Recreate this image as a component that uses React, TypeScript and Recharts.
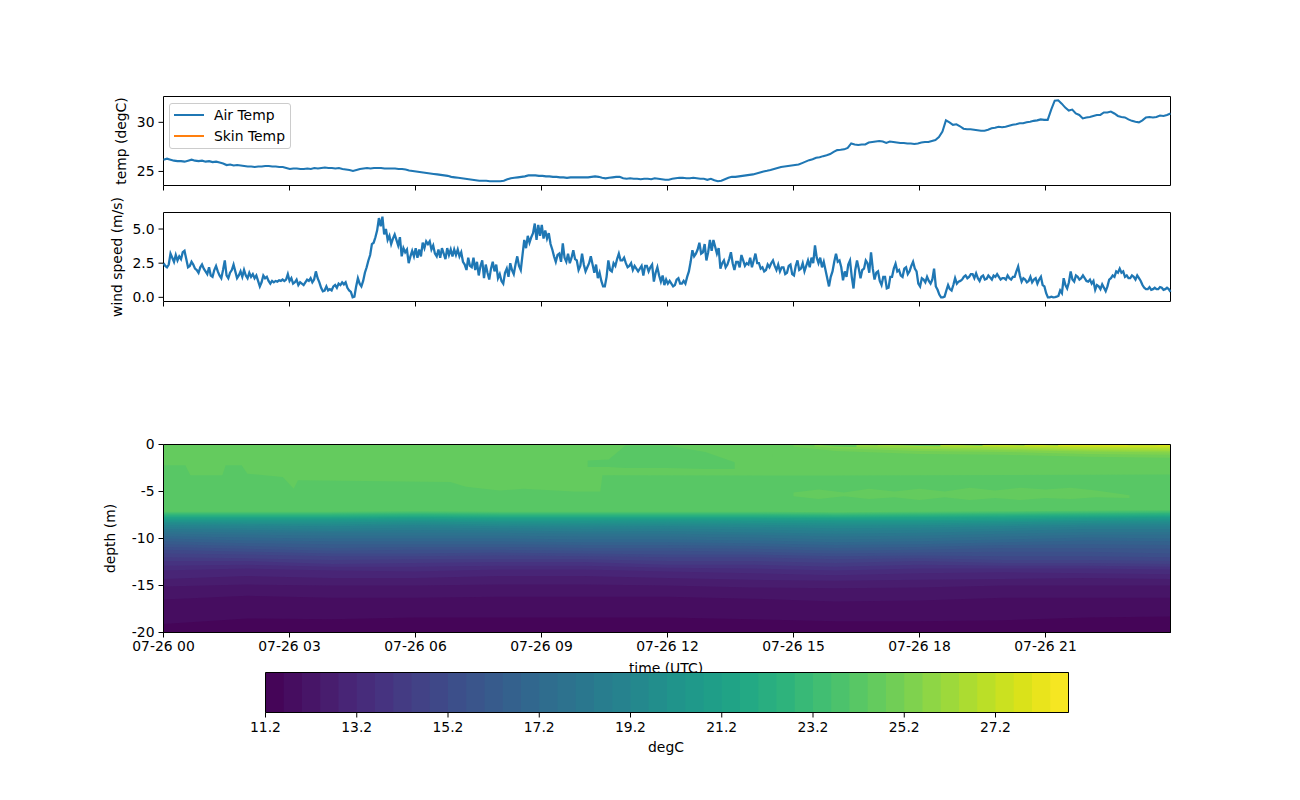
import React from 'react';
import {
    Area, AreaChart, ComposedChart, Legend, Line, LineChart, ReferenceArea, XAxis, YAxis,
} from 'recharts';

const FONT = '"DejaVu Sans", sans-serif';
const FONT_SIZE = 13.9;
const LAST_HOUR = 23.976;

const hourTicks = [0, 3, 6, 9, 12, 15, 18, 21];
const hourLabels = ['07-26 00', '07-26 03', '07-26 06', '07-26 09', '07-26 12', '07-26 15', '07-26 18', '07-26 21'];
const tempTicks = [25, 30];
const windTicks = [0, 2.5, 5];
const depthTicks = [0, -5, -10, -15, -20];
const colorbarTicks = [11.2, 13.2, 15.2, 17.2, 19.2, 21.2, 23.2, 25.2, 27.2];

// air temp, one reading every 5 min
const airTemp = [
    26.2, 26.3, 26.2, 26.1, 26.05, 26.05, 26.0, 26.1, 26.2, 26.1, 26.05, 26.1,
    26.0, 26.05, 25.95, 26.0, 25.9, 25.8, 25.65, 25.7, 25.6, 25.65, 25.6, 25.55,
    25.5, 25.5, 25.45, 25.5, 25.5, 25.55, 25.55, 25.5, 25.5, 25.45, 25.45, 25.35,
    25.25, 25.3, 25.3, 25.25, 25.25, 25.3, 25.25, 25.35, 25.3, 25.35, 25.4, 25.35,
    25.35, 25.3, 25.35, 25.25, 25.2, 25.15, 25.05, 25.15, 25.25, 25.3, 25.35, 25.3,
    25.35, 25.35, 25.35, 25.3, 25.3, 25.3, 25.3, 25.25, 25.25, 25.2, 25.1, 25.05,
    25.0, 24.95, 24.9, 24.85, 24.8, 24.75, 24.7, 24.65, 24.6, 24.55, 24.45, 24.4,
    24.35, 24.3, 24.25, 24.2, 24.15, 24.1, 24.05, 24.05, 24.05, 24.0, 24.0, 24.0,
    24.0, 24.05, 24.2, 24.3, 24.35, 24.4, 24.45, 24.5, 24.6, 24.6, 24.6, 24.55,
    24.55, 24.5, 24.5, 24.45, 24.45, 24.4, 24.4, 24.35, 24.4, 24.4, 24.4, 24.4,
    24.4, 24.4, 24.45, 24.5, 24.45, 24.35, 24.3, 24.35, 24.4, 24.45, 24.45, 24.3,
    24.25, 24.3, 24.25, 24.25, 24.2, 24.25, 24.25, 24.2, 24.3, 24.25, 24.2, 24.15,
    24.15, 24.25, 24.3, 24.35, 24.35, 24.3, 24.3, 24.35, 24.3, 24.25, 24.25, 24.15,
    24.25, 24.1, 24.0, 24.05, 24.2, 24.35, 24.45, 24.45, 24.5, 24.55, 24.6, 24.65,
    24.7, 24.8, 24.9, 25.0, 25.07, 25.15, 25.25, 25.35, 25.45, 25.5, 25.55, 25.6,
    25.65, 25.7, 25.85, 26.0, 26.15, 26.25, 26.4, 26.45, 26.56, 26.65, 26.77, 27.0,
    27.17, 27.2, 27.25, 27.4, 27.85, 27.75, 27.7, 27.75, 27.75, 27.95, 28.0, 28.05,
    28.1, 28.05, 27.9, 28.05, 28.0, 27.95, 27.9, 27.9, 27.85, 27.85, 27.8, 27.85,
    27.95, 28.0, 28.0, 28.1, 28.2, 28.5, 29.05, 30.2, 30.0, 29.75, 29.8, 29.6,
    29.35, 29.3, 29.3, 29.25, 29.2, 29.15, 29.15, 29.25, 29.4, 29.45, 29.55, 29.5,
    29.55, 29.65, 29.75, 29.8, 29.9, 29.9, 30.0, 30.05, 30.15, 30.2, 30.3, 30.25,
    30.25, 31.3, 32.2, 32.25, 31.9, 31.5, 31.2, 31.3, 30.9, 30.75, 30.4, 30.5,
    30.55, 30.65, 30.75, 30.75, 31.0, 31.0, 31.1, 30.9, 30.65, 30.55, 30.5, 30.3,
    30.15, 30.05, 30.0, 30.2, 30.5, 30.55, 30.5, 30.55, 30.7, 30.65, 30.75, 30.9,
];

// wind speed, one reading every 2.5 min
const windSpeed = [
    2.5, 2.3, 2.2, 2.4, 3.2, 2.9, 2.6, 3.1, 2.7, 3.0, 2.8, 3.3, 3.4, 2.8, 2.2, 2.3, 2.6, 2.4, 2.1, 2.0, 1.8, 2.2, 2.4, 2.1,
    1.9, 1.7, 2.2, 1.6, 1.5, 2.0, 2.3, 1.9, 1.6, 1.4, 2.0, 2.7, 1.6, 1.4, 1.8, 2.0, 2.4, 1.9, 1.4, 1.6, 1.9, 1.5, 2.0, 1.6,
    1.4, 1.8, 1.5, 1.7, 1.4, 1.6, 1.2, 0.8, 1.1, 1.6, 1.4, 1.5, 1.2, 1.0, 1.2, 1.1, 1.2, 1.15, 1.25, 1.2, 1.3, 1.2, 1.3, 1.7,
    1.2, 1.4, 1.0, 1.1, 1.3, 0.9, 1.1, 1.0, 0.9, 1.1, 1.3, 1.2, 1.4, 1.1, 1.3, 1.9, 1.4, 1.1, 0.7, 0.45, 0.5, 0.8, 0.5, 0.6,
    0.5, 0.8, 0.9, 0.7, 1.0, 0.9, 1.1, 0.95, 1.1, 0.7, 0.5, 0.4, 0.0, 0.05, 0.8, 1.4, 1.0, 0.8, 1.2, 1.8, 2.2, 2.7, 3.1, 3.9,
    4.0, 4.4, 4.9, 5.8, 5.2, 5.9, 4.6, 5.0, 4.2, 4.5, 3.9, 4.3, 4.6, 4.2, 3.8, 4.4, 3.0, 3.6, 3.3, 3.5, 2.5, 3.0, 3.4, 3.0,
    3.6, 2.9, 3.5, 3.0, 4.0, 3.6, 4.1, 3.9, 4.1, 3.5, 3.8, 3.2, 3.0, 3.5, 2.9, 3.6, 3.2, 2.8, 3.6, 3.1, 3.5, 3.0, 3.5, 3.1,
    3.5, 3.0, 3.3, 2.6, 2.4, 2.0, 2.9, 2.3, 2.2, 2.9, 2.0, 2.6, 1.6, 2.3, 2.7, 1.4, 2.4, 1.8, 1.3, 2.1, 2.6, 1.9, 2.4, 1.4,
    1.7, 1.2, 1.0, 1.8, 2.1, 1.5, 2.5, 2.0, 1.7, 2.4, 3.0, 2.3, 2.0, 3.1, 4.2, 3.6, 4.5, 4.0, 4.4, 4.7, 5.4, 4.2, 5.3, 4.5,
    5.3, 4.3, 4.9, 4.3, 4.7, 3.9, 3.5, 3.0, 2.6, 3.1, 3.2, 2.6, 3.95, 2.9, 2.6, 3.2, 2.5, 2.9, 3.45, 2.8, 2.7, 2.0, 2.3, 3.2,
    2.4, 1.9, 2.2, 2.5, 3.0, 2.4, 1.8, 2.4, 1.4, 1.8, 1.2, 0.8, 0.8, 1.5, 2.7, 2.0, 1.9, 2.5, 2.3, 2.8, 3.2, 2.7, 2.7, 2.9,
    2.5, 2.2, 2.3, 2.5, 2.0, 2.3, 2.1, 1.9, 2.1, 2.3, 1.6, 2.3, 2.3, 1.9, 2.2, 2.4, 1.15, 1.8, 2.2, 1.6, 1.15, 1.6, 0.9, 1.3,
    1.0, 1.2, 1.0, 0.8, 0.9, 1.3, 1.4, 1.0, 1.0, 1.2, 1.0, 1.5, 1.9, 2.6, 3.45, 3.0, 3.2, 3.5, 4.0, 3.2, 3.3, 3.9, 2.7, 3.3,
    4.2, 3.4, 4.2, 3.7, 3.2, 3.6, 2.1, 2.5, 2.7, 2.2, 2.4, 2.8, 3.3, 2.5, 2.0, 2.6, 2.6, 2.2, 3.1, 2.7, 2.3, 2.5, 2.4, 2.9,
    2.2, 2.7, 3.2, 2.5, 2.5, 2.1, 2.2, 1.9, 2.0, 2.4, 2.2, 2.5, 2.7, 2.3, 2.0, 2.4, 1.9, 2.2, 2.2, 1.7, 1.8, 2.3, 2.4, 1.7,
    1.6, 2.3, 2.7, 2.0, 2.1, 2.5, 1.9, 2.3, 2.7, 2.2, 2.9, 2.5, 3.8, 2.9, 2.5, 2.9, 2.2, 2.6, 2.0, 1.4, 0.8, 1.5, 1.9, 2.6,
    3.2, 2.6, 2.7, 2.2, 1.25, 1.9, 1.5, 2.4, 2.7, 1.5, 0.65, 2.0, 2.7, 2.1, 1.4, 2.0, 2.1, 2.7, 2.5, 1.8, 3.3, 2.1, 1.3, 1.8,
    1.9, 1.2, 0.9, 1.5, 1.5, 0.65, 0.7, 1.5, 1.5, 2.1, 2.45, 1.9, 2.0, 1.6, 1.5, 2.1, 2.2, 1.7, 1.9, 2.3, 2.6, 2.1, 1.9, 1.0,
    0.8, 1.4, 1.3, 1.1, 1.5, 1.2, 1.0, 1.3, 2.1, 0.8, 0.55, 0.2, 0.0, 0.0, 0.05, 0.5, 0.9, 0.6, 0.5, 0.9, 1.4, 1.0, 1.15, 1.2,
    1.3, 1.5, 1.6, 1.4, 1.5, 1.7, 1.7, 1.4, 1.75, 1.4, 1.2, 1.5, 1.6, 1.3, 1.35, 1.6, 1.45, 1.3, 1.6, 1.5, 1.7, 1.5, 1.3, 1.4,
    1.4, 1.3, 1.6, 1.4, 1.3, 1.5, 1.5, 1.9, 2.25, 1.6, 1.15, 1.4, 1.3, 1.1, 1.2, 1.5, 1.1, 1.3, 1.4, 1.0, 1.3, 1.5, 0.9, 0.8,
    0.3, 0.0, 0.0, 0.05, 0.0, 0.02, 0.05, 0.1, 0.5, 0.3, 1.4, 0.9, 0.65, 1.1, 1.9, 1.3, 1.15, 1.6, 1.5, 1.3, 1.4, 1.6, 1.4, 1.2,
    1.15, 1.3, 1.0, 1.2, 0.55, 0.9, 0.8, 0.6, 0.95, 0.7, 0.45, 0.8, 1.3, 1.4, 1.6, 1.5, 1.9, 1.8, 2.1, 1.8, 1.9, 1.5, 1.6, 1.4,
    1.4, 1.6, 1.5, 1.3, 1.6, 1.4, 1.2, 0.9, 0.7, 0.6, 0.6, 0.75, 0.55, 0.6, 0.7, 0.6, 0.6, 0.75, 0.7, 0.55, 0.6, 0.7, 0.6, 0.4,
];

// depth (m) of each isotherm, read every two hours
const isoHours = [0, 2, 4, 6, 8, 10, 12, 14, 16, 18, 20, 22, LAST_HOUR];
const iso11_6 = [19.1, 18.5, 18.6, 18.4, 18.4, 18.4, 18.4, 18.6, 18.8, 18.8, 18.7, 18.4, 18.3];
const iso12_0 = [16.5, 16.1, 16.3, 16.3, 16.2, 16.2, 16.2, 16.4, 16.7, 16.6, 16.3, 16.3, 16.3];
const iso12_4 = [15.1, 14.9, 15.0, 15.0, 14.9, 14.9, 15.0, 15.2, 15.3, 15.2, 15.0, 15.0, 15.0];
const iso12_8 = [14.3, 14.0, 14.2, 14.2, 14.0, 14.0, 14.2, 14.4, 14.5, 14.4, 14.3, 14.2, 14.3];
const iso13_2 = [13.4, 13.2, 13.4, 13.5, 13.3, 13.3, 13.5, 13.7, 13.9, 13.7, 13.6, 13.7, 13.8];
const iso13_6 = [12.9, 12.8, 13.0, 13.0, 12.9, 12.9, 13.1, 13.2, 13.4, 13.2, 13.2, 13.2, 13.3];
const iso14_0 = [12.4, 12.4, 12.7, 12.6, 12.5, 12.5, 12.8, 12.8, 13.0, 12.8, 12.9, 12.9, 13.0];
const iso14_4 = [12.0, 12.1, 12.3, 12.2, 12.2, 12.2, 12.4, 12.4, 12.6, 12.4, 12.6, 12.6, 12.7];
const iso14_8 = [11.6, 11.7, 11.9, 11.9, 11.8, 11.9, 12.0, 12.0, 12.2, 12.1, 12.3, 12.3, 12.4];
const iso15_2 = [11.2, 11.4, 11.6, 11.6, 11.5, 11.6, 11.7, 11.7, 11.9, 11.8, 11.9, 11.9, 12.0];
const iso15_6 = [10.9, 11.1, 11.3, 11.2, 11.2, 11.3, 11.3, 11.4, 11.6, 11.5, 11.4, 11.4, 11.6];
const iso16_0 = [10.6, 10.8, 11.0, 10.9, 10.9, 11.0, 11.0, 11.1, 11.3, 11.2, 11.0, 11.0, 11.1];
const iso16_4 = [10.3, 10.5, 10.6, 10.6, 10.6, 10.7, 10.7, 10.8, 11.0, 10.9, 10.7, 10.6, 10.7];
const iso16_8 = [10.0, 10.2, 10.3, 10.3, 10.3, 10.4, 10.4, 10.5, 10.7, 10.6, 10.4, 10.2, 10.3];
const iso17_2 = [9.75, 9.9, 10.0, 10.0, 10.0, 10.1, 10.1, 10.2, 10.4, 10.3, 10.1, 9.9, 10.0];
const iso17_6 = [9.5, 9.6, 9.7, 9.7, 9.7, 9.8, 9.8, 9.9, 10.1, 10.0, 9.8, 9.6, 9.6];
const iso18_0 = [9.25, 9.35, 9.4, 9.4, 9.4, 9.5, 9.5, 9.6, 9.8, 9.7, 9.5, 9.3, 9.3];
const iso18_4 = [9.0, 9.1, 9.2, 9.1, 9.15, 9.25, 9.2, 9.35, 9.5, 9.4, 9.2, 9.0, 9.0];
const iso18_8 = [8.8, 8.9, 8.95, 8.85, 8.9, 9.0, 8.95, 9.05, 9.2, 9.1, 8.95, 8.75, 8.75];
const iso19_2 = [8.6, 8.65, 8.7, 8.6, 8.7, 8.75, 8.7, 8.8, 8.9, 8.85, 8.7, 8.55, 8.5];
const iso19_6 = [8.4, 8.45, 8.5, 8.4, 8.5, 8.55, 8.5, 8.55, 8.65, 8.6, 8.5, 8.35, 8.3];
const iso20_0 = [8.25, 8.3, 8.3, 8.2, 8.3, 8.35, 8.3, 8.35, 8.4, 8.4, 8.3, 8.15, 8.1];
const iso20_4 = [8.1, 8.1, 8.1, 8.05, 8.15, 8.15, 8.1, 8.15, 8.2, 8.2, 8.15, 8.0, 7.95];
const iso20_8 = [8.0, 8.0, 7.95, 7.9, 8.0, 8.0, 7.95, 8.0, 8.05, 8.05, 8.0, 7.85, 7.8];
const iso21_2 = [7.9, 7.85, 7.85, 7.8, 7.85, 7.85, 7.85, 7.85, 7.9, 7.9, 7.85, 7.75, 7.7];
const iso21_6 = [7.75, 7.75, 7.75, 7.7, 7.75, 7.75, 7.75, 7.75, 7.8, 7.75, 7.7, 7.65, 7.6];
const iso22_0 = [7.65, 7.65, 7.65, 7.6, 7.65, 7.65, 7.65, 7.65, 7.7, 7.65, 7.6, 7.55, 7.5];
const iso22_4 = [7.55, 7.55, 7.55, 7.5, 7.55, 7.55, 7.55, 7.55, 7.6, 7.55, 7.5, 7.45, 7.4];
const iso22_8 = [7.45, 7.45, 7.45, 7.4, 7.45, 7.45, 7.45, 7.45, 7.5, 7.45, 7.4, 7.35, 7.3];
const iso23_2 = [7.35, 7.35, 7.35, 7.3, 7.35, 7.35, 7.35, 7.35, 7.4, 7.35, 7.3, 7.25, 7.2];
const iso23_6 = [7.25, 7.25, 7.25, 7.2, 7.25, 7.25, 7.25, 7.25, 7.3, 7.25, 7.2, 7.15, 7.1];
const iso24_0 = [7.15, 7.15, 7.15, 7.1, 7.15, 7.15, 7.15, 7.15, 7.2, 7.15, 7.1, 7.05, 7.0];

// the mixed layer steps around more, so it gets its own readings
const iso24_4Hours = [0, 0.52, 0.64, 1.4, 1.48, 1.86, 2, 2.84, 3.1, 3.2, 6.83, 7.2, 8, 8.57, 9.76, 10.4, 10.45, 16, LAST_HOUR];
const iso24_4 = [2.2, 2.2, 3.26, 3.26, 2.2, 2.2, 3.1, 3.45, 4.7, 3.8, 4.0, 4.5, 4.9, 4.7, 5.0, 5.0, 3.26, 3.3, 3.2];
const iso24_8Hours = [14.5, 16, 18, 20, 22, LAST_HOUR];
const iso24_8 = [0, 0.7, 1.0, 1.1, 1.3, 1.4];
const iso25_2Hours = [15, 16, 18, 20, 22, LAST_HOUR];
const iso25_2 = [0, 0.4, 0.7, 0.8, 1.0, 1.1];
const iso25_6Hours = [15.5, 16, 18, 20, 22, LAST_HOUR];
const iso25_6 = [0, 0.2, 0.45, 0.6, 0.75, 0.85];
const iso26_0Hours = [16.5, 18, 20, 22, LAST_HOUR];
const iso26_0 = [0, 0.3, 0.45, 0.6, 0.7];
const iso26_4Hours = [17, 18, 20, 22, LAST_HOUR];
const iso26_4 = [0, 0.15, 0.3, 0.5, 0.55];
const iso26_8Hours = [18.5, 20, 22, LAST_HOUR];
const iso26_8 = [0, 0.2, 0.35, 0.4];
const iso27_2Hours = [19.5, 21, 22, LAST_HOUR];
const iso27_2 = [0, 0.15, 0.25, 0.3];
const iso27_6Hours = [20.5, 21.5, 22, 23, LAST_HOUR];
const iso27_6 = [0, 0.12, 0.1, 0.12, 0.12];
const iso28_0Hours = [21.3, 21.6, 22, 22.8, 23, 23.6, LAST_HOUR];
const iso28_0 = [0, 0.06, 0, 0, 0.07, 0.07, 0];

const surfaceHours = [0, LAST_HOUR];
const surface = [0, 0];

// cooler lens near the surface around midday, warmer sheet at 5 m late on
const lensHours = [10.1, 10.6, 11, 12, 12.9, 13.6];
const lensTop = [1.7, 1.6, 0.1, 0.1, 0.8, 1.9];
const lensBottom = [2.4, 2.4, 2.5, 2.5, 2.6, 2.6];
const sheetHours = [15, 15.6, 16.2, 16.8, 17.4, 18, 18.6, 19.2, 19.8, 20.4, 21, 21.6, 22.2, 23];
const sheetTop = [5.1, 4.8, 5.1, 4.7, 5.0, 4.7, 5.0, 4.6, 4.9, 4.6, 4.8, 4.6, 4.9, 5.4];
const sheetBottom = [5.5, 5.8, 5.5, 5.8, 5.6, 5.9, 5.6, 5.9, 5.7, 5.9, 5.7, 5.8, 5.6, 5.7];

const colorbarEdges = [
    11.2, 11.6, 12.0, 12.4, 12.8, 13.2, 13.6, 14.0, 14.4, 14.8, 15.2, 15.6, 16.0, 16.4, 16.8,
    17.2, 17.6, 18.0, 18.4, 18.8, 19.2, 19.6, 20.0, 20.4, 20.8, 21.2, 21.6, 22.0, 22.4, 22.8,
    23.2, 23.6, 24.0, 24.4, 24.8, 25.2, 25.6, 26.0, 26.4, 26.8, 27.2, 27.6, 28.0, 28.4, 28.8,
];
const BAND_COUNT = colorbarEdges.length - 1;

const viridis = [
    '#440154', '#471365', '#482475', '#463480', '#414487', '#3b528b', '#355f8d',
    '#2f6c8e', '#2a788e', '#25848e', '#21918c', '#1e9c89', '#22a884', '#2fb47c',
    '#44bf70', '#5ec962', '#7ad151', '#9bd93c', '#bddf26', '#dfe318', '#fde725',
];

const bandColor = (band: number) => {
    const pos = ((band + 0.5) / BAND_COUNT) * (viridis.length - 1);
    const i = Math.floor(pos);
    const a = viridis[i];
    const b = viridis[Math.min(i + 1, viridis.length - 1)];
    const mix = (s: number) => {
        const x = parseInt(a.slice(s, s + 2), 16);
        const y = parseInt(b.slice(s, s + 2), 16);
        return Math.round(x + (y - x) * (pos - i));
    };
    return `rgb(${mix(1)},${mix(3)},${mix(5)})`;
};

// painted warmest first, each one covers everything below its isotherm
const isotherms = [
    { key: 'iso28_0', hours: iso28_0Hours, depth: iso28_0, band: 41 },
    { key: 'iso27_6', hours: iso27_6Hours, depth: iso27_6, band: 40 },
    { key: 'iso27_2', hours: iso27_2Hours, depth: iso27_2, band: 39 },
    { key: 'iso26_8', hours: iso26_8Hours, depth: iso26_8, band: 38 },
    { key: 'iso26_4', hours: iso26_4Hours, depth: iso26_4, band: 37 },
    { key: 'iso26_0', hours: iso26_0Hours, depth: iso26_0, band: 36 },
    { key: 'iso25_6', hours: iso25_6Hours, depth: iso25_6, band: 35 },
    { key: 'iso25_2', hours: iso25_2Hours, depth: iso25_2, band: 34 },
    { key: 'iso24_8', hours: iso24_8Hours, depth: iso24_8, band: 33 },
    { key: 'iso24_4', hours: iso24_4Hours, depth: iso24_4, band: 32 },
    ...[
        iso24_0, iso23_6, iso23_2, iso22_8, iso22_4, iso22_0, iso21_6, iso21_2,
        iso20_8, iso20_4, iso20_0, iso19_6, iso19_2, iso18_8, iso18_4, iso18_0,
        iso17_6, iso17_2, iso16_8, iso16_4, iso16_0, iso15_6, iso15_2, iso14_8,
        iso14_4, iso14_0, iso13_6, iso13_2, iso12_8, iso12_4, iso12_0, iso11_6,
    ].map((depth, i) => ({ key: `iso${i}`, hours: isoHours, depth, band: 31 - i })),
];

const buildHeatRows = () => {
    const rows = new Map<number, any>();
    const rowAt = (hour: number) => {
        if (!rows.has(hour)) rows.set(hour, { hour });
        return rows.get(hour);
    };
    surfaceHours.forEach((h, i) => { rowAt(h).surface = surface[i]; });
    isotherms.forEach((iso) => {
        iso.hours.forEach((h, i) => { rowAt(h)[iso.key] = -iso.depth[i]; });
    });
    lensHours.forEach((h, i) => { rowAt(h).lens = [-lensBottom[i], -lensTop[i]]; });
    sheetHours.forEach((h, i) => { rowAt(h).sheet = [-sheetBottom[i], -sheetTop[i]]; });
    return [...rows.values()].sort((a, b) => a.hour - b.hour);
};

const heatRows = buildHeatRows();
const tempRows = airTemp.map((temp, i) => ({ hour: (i * LAST_HOUR) / (airTemp.length - 1), temp }));
const windRows = windSpeed.map((wind, i) => ({ hour: (i * LAST_HOUR) / (windSpeed.length - 1), wind }));

// each colorbar band runs from its left edge to the end, the next one paints over it
const colorbarBands = colorbarEdges.slice(0, BAND_COUNT);
const colorbarRows = colorbarEdges.map((edge) => {
    const row: any = { edge };
    colorbarBands.forEach((start, band) => {
        if (edge >= start) row[`band${band}`] = 1;
    });
    return row;
});

const tickStyle = { fill: '#000', fontSize: FONT_SIZE, fontFamily: FONT };
const tickLine = { stroke: '#000', strokeWidth: 1 };
const labelStyle = { fill: '#000', fontSize: FONT_SIZE, fontFamily: FONT };
const layer: React.CSSProperties = { position: 'absolute', left: 0, top: 0 };

const frame = (x1: number, x2: number, y1: number, y2: number) => (
    <ReferenceArea x1={x1} x2={x2} y1={y1} y2={y2} fill="none" fillOpacity={0} stroke="#000" strokeWidth={1} ifOverflow="visible" />
);

const TempLegend = ({ payload }: any) => (
    <div style={{ border: '1px solid #ccc', borderRadius: 3, background: '#fff', width: 120, height: 44, position: 'relative', fontFamily: FONT, fontSize: FONT_SIZE }}>
        {(payload || []).map((item: any, i: number) => (
            <div key={item.value} style={{ position: 'absolute', left: 4, top: i * 21, height: 20, lineHeight: '20px', whiteSpace: 'nowrap' }}>
                <span style={{ display: 'inline-block', width: 30, height: 2, background: item.color, verticalAlign: 'middle', marginRight: 10 }} />
                <span style={{ color: '#000', verticalAlign: 'middle' }}>{item.value}</span>
            </div>
        ))}
    </div>
);

const App = () => {
    return (
        <div style={{ position: 'fixed', left: 0, top: 0, width: 1300, height: 800, background: '#fff' }}>
            <div style={layer}>
                <LineChart width={1300} height={800} data={tempRows} margin={{ top: 96.5, left: 103.5, right: 129.5, bottom: 589.5 }}>
                    <XAxis dataKey="hour" type="number" domain={[0, LAST_HOUR]} ticks={hourTicks} interval={0} height={25} axisLine={false} tickLine={tickLine} tickSize={5} tickFormatter={() => ''} />
                    <YAxis domain={[23.57, 32.63]} ticks={tempTicks} interval={0} width={60} axisLine={false} tickLine={tickLine} tickSize={5} tickMargin={4} tick={tickStyle}
                        label={{ value: 'temp (degC)', angle: -90, position: 'center', dx: -12, style: labelStyle }} />
                    <Legend layout="vertical" align="center" verticalAlign="middle" content={<TempLegend />} wrapperStyle={{ left: 169, top: 103, width: 122 }} />
                    <Line name="Air Temp" dataKey="temp" stroke="#1f77b4" strokeWidth={2.08} dot={false} isAnimationActive={false} />
                    <Line name="Skin Temp" dataKey="skin" stroke="#ff7f0e" strokeWidth={2.08} dot={false} isAnimationActive={false} />
                    {frame(0, LAST_HOUR, 23.57, 32.63)}
                </LineChart>
            </div>
            <div style={layer}>
                <LineChart width={1300} height={800} data={windRows} margin={{ top: 212.5, left: 103.5, right: 129.5, bottom: 473.5 }}>
                    <XAxis dataKey="hour" type="number" domain={[0, LAST_HOUR]} ticks={hourTicks} interval={0} height={25} axisLine={false} tickLine={tickLine} tickSize={5} tickFormatter={() => ''} />
                    <YAxis domain={[-0.305, 6.21]} ticks={windTicks} interval={0} width={60} axisLine={false} tickLine={tickLine} tickSize={5} tickMargin={4} tick={tickStyle} tickFormatter={(v: number) => v.toFixed(1)}
                        label={{ value: 'wind speed (m/s)', angle: -90, position: 'center', dx: -16, style: labelStyle }} />
                    <Line dataKey="wind" stroke="#1f77b4" strokeWidth={2.3} dot={false} isAnimationActive={false} />
                    {frame(0, LAST_HOUR, -0.305, 6.21)}
                </LineChart>
            </div>
            <div style={layer}>
                <ComposedChart width={1300} height={800} data={heatRows} margin={{ top: 444.5, left: 103.5, right: 129.5, bottom: 125.5 }}>
                    <XAxis dataKey="hour" type="number" domain={[0, LAST_HOUR]} ticks={hourTicks} interval={0} height={42} axisLine={false} tickLine={tickLine} tickSize={5} tickMargin={4} tick={tickStyle}
                        tickFormatter={(v: number) => hourLabels[hourTicks.indexOf(v)]}
                        label={{ value: 'time (UTC)', position: 'insideBottom', offset: 2, dx: -1, style: labelStyle }} />
                    <YAxis domain={[-20, 0]} ticks={depthTicks} interval={0} width={60} axisLine={false} tickLine={tickLine} tickSize={5} tickMargin={4} tick={tickStyle}
                        label={{ value: 'depth (m)', angle: -90, position: 'center', dx: -23, style: labelStyle }} />
                    <Area dataKey="surface" baseValue={-20} fill={bandColor(33)} fillOpacity={1} stroke="none" connectNulls isAnimationActive={false} />
                    {isotherms.map((iso) => (
                        <Area key={iso.key} dataKey={iso.key} baseValue={-20} fill={bandColor(iso.band)} fillOpacity={1} stroke="none" connectNulls isAnimationActive={false} />
                    ))}
                    <Area dataKey="lens" fill={bandColor(32)} fillOpacity={1} stroke="none" connectNulls isAnimationActive={false} />
                    <Area dataKey="sheet" fill={bandColor(33)} fillOpacity={1} stroke="none" connectNulls isAnimationActive={false} />
                    {frame(0, LAST_HOUR, -20, 0)}
                </ComposedChart>
            </div>
            <div style={layer}>
                <AreaChart width={1300} height={800} data={colorbarRows} margin={{ top: 672.5, left: 265.5, right: 231.5, bottom: 47.5 }}>
                    <XAxis dataKey="edge" type="number" domain={[11.2, 28.8]} ticks={colorbarTicks} interval={0} height={40} axisLine={false} tickLine={tickLine} tickSize={5} tickMargin={5} tick={tickStyle}
                        label={{ value: 'degC', position: 'insideBottom', offset: 1, dx: -1, style: labelStyle }} />
                    <YAxis domain={[0, 1]} hide />
                    {colorbarBands.map((start, band) => (
                        <Area key={start} dataKey={`band${band}`} baseValue={0} fill={bandColor(band)} fillOpacity={1} stroke="none" isAnimationActive={false} />
                    ))}
                    {frame(11.2, 28.8, 0, 1)}
                </AreaChart>
            </div>
        </div>
    );
};

export default App;
